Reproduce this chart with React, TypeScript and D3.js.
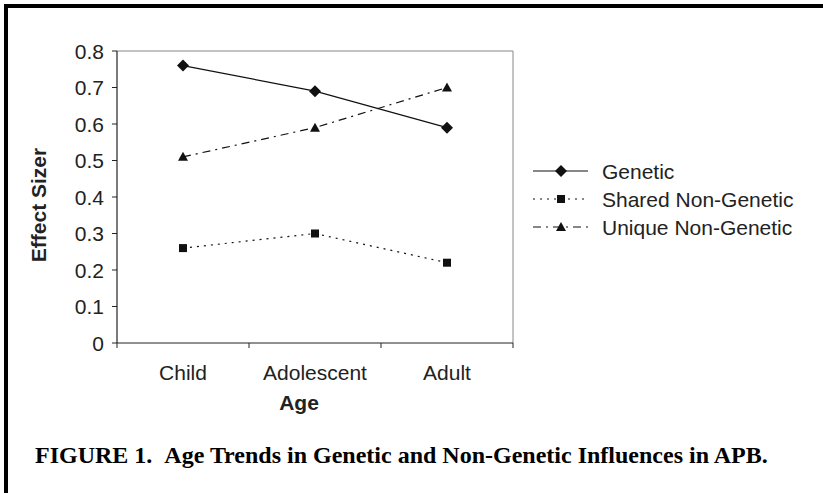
import React from 'react';
import * as d3 from 'd3';

const categories = ['Child', 'Adolescent', 'Adult'];
const genetic = [0.76, 0.69, 0.59];
const shared = [0.26, 0.3, 0.22];
const unique = [0.51, 0.59, 0.7];
const yTicks = [0, 0.1, 0.2, 0.3, 0.4, 0.5, 0.6, 0.7, 0.8];

const seriesNames = ['Genetic', 'Shared Non-Genetic', 'Unique Non-Genetic'];

const W = 823;
const H = 493;
const margin = { top: 51, left: 117, right: 310, bottom: 150 };

const App: React.FC = () => {
  const x = d3.scaleBand<string>()
    .domain(categories)
    .range([margin.left, W - margin.right]);
  const y = d3.scaleLinear()
    .domain([0, 0.8])
    .range([H - margin.bottom, margin.top]);

  const cx = (c: string) => (x(c) || 0) + x.bandwidth() / 2;

  const line = d3.line<[string, number]>()
    .x(d => cx(d[0]))
    .y(d => y(d[1]));

  const series = [
    { name: seriesNames[0], values: genetic, dash: undefined, marker: 'diamond' },
    { name: seriesNames[1], values: shared, dash: '2,5', marker: 'square' },
    { name: seriesNames[2], values: unique, dash: '8,5,2,5', marker: 'triangle' },
  ];

  const marker = (kind: string, px: number, py: number, key: string | number) => {
    if (kind === 'diamond') {
      const s = 6;
      return (
        <path key={key} d={`M${px},${py - s}L${px + s},${py}L${px},${py + s}L${px - s},${py}Z`} fill="#111" />
      );
    }
    if (kind === 'square') {
      return <rect key={key} x={px - 4} y={py - 4} width={8} height={8} fill="#111" />;
    }
    return (
      <path key={key} d={`M${px},${py - 5}L${px + 5},${py + 4}L${px - 5},${py + 4}Z`} fill="#111" />
    );
  };

  const x0 = margin.left;
  const x1 = W - margin.right;
  const y0 = y(0);
  const y1 = y(0.8);
  const bandEdges = [...categories.map(c => x(c) || 0), x1];

  const legendX = 533;
  const legendY = 171;
  const legendStep = 28;
  const fs = 21;

  return (
    <svg width={W} height={H} style={{ position: 'absolute', left: 0, top: 0, background: '#fff' }}
      fontFamily="Arial, 'Liberation Sans', sans-serif">
      {/* outer frame (top and left only visible) */}
      <line x1={4} x2={W} y1={6} y2={6} stroke="#000" strokeWidth={4} />
      <line x1={6} x2={6} y1={4} y2={H} stroke="#000" strokeWidth={4} />

      {/* plot frame */}
      <line x1={x0} x2={x1} y1={y1} y2={y1} stroke="#888" strokeWidth={1} />
      <line x1={x1} x2={x1} y1={y1} y2={y0} stroke="#888" strokeWidth={1} />

      {/* y axis */}
      <line x1={x0} x2={x0} y1={y1} y2={y0} stroke="#222" strokeWidth={1.2} />
      {yTicks.map(t => (
        <g key={t}>
          <line x1={x0 - 5} x2={x0} y1={y(t)} y2={y(t)} stroke="#222" />
          <text x={104} y={y(t)} dy="0.36em" textAnchor="end" fontSize={fs} fill="#222">
            {t === 0 ? '0' : t.toFixed(1)}
          </text>
        </g>
      ))}

      {/* x axis */}
      <line x1={x0} x2={x1} y1={y0} y2={y0} stroke="#222" strokeWidth={1.2} />
      {bandEdges.map((e, i) => (
        <line key={i} x1={e} x2={e} y1={y0} y2={y0 + 5} stroke="#222" />
      ))}
      {categories.map(c => (
        <text key={c} x={cx(c)} y={380} textAnchor="middle" fontSize={fs} fill="#222">{c}</text>
      ))}
      <text x={299} y={410} textAnchor="middle" fontSize={fs} fontWeight="bold" fill="#222">Age</text>
      <text transform={`translate(46,205) rotate(-90)`} textAnchor="middle"
        fontSize={fs} fontWeight="bold" fill="#222">Effect Sizer</text>

      {/* series */}
      {series.map(s => {
        const pts = categories.map((c, i) => [c, s.values[i]] as [string, number]);
        return (
          <g key={s.name}>
            <path d={line(pts) || ''} fill="none" stroke="#111" strokeWidth={1.2} strokeDasharray={s.dash} />
            {pts.map((p, i) => marker(s.marker, cx(p[0]), y(p[1]), i))}
          </g>
        );
      })}

      {/* legend */}
      {series.map((s, i) => {
        const ly = legendY + i * legendStep;
        return (
          <g key={s.name}>
            <line x1={legendX} x2={legendX + 55} y1={ly} y2={ly} stroke="#111" strokeWidth={1.2} strokeDasharray={s.dash} />
            {marker(s.marker, legendX + 28, ly, 'm')}
            <text x={legendX + 69} y={ly} dy="0.36em" fontSize={fs} fill="#222">{s.name}</text>
          </g>
        );
      })}

      {/* caption */}
      <text x={35} y={463} fontFamily="'Times New Roman', 'Liberation Serif', serif" fontWeight="bold" fontSize={24} fill="#000">
        FIGURE 1.{'\u00a0\u00a0'}Age Trends in Genetic and Non-Genetic Influences in APB.
      </text>
    </svg>
  );
};

export default App;
